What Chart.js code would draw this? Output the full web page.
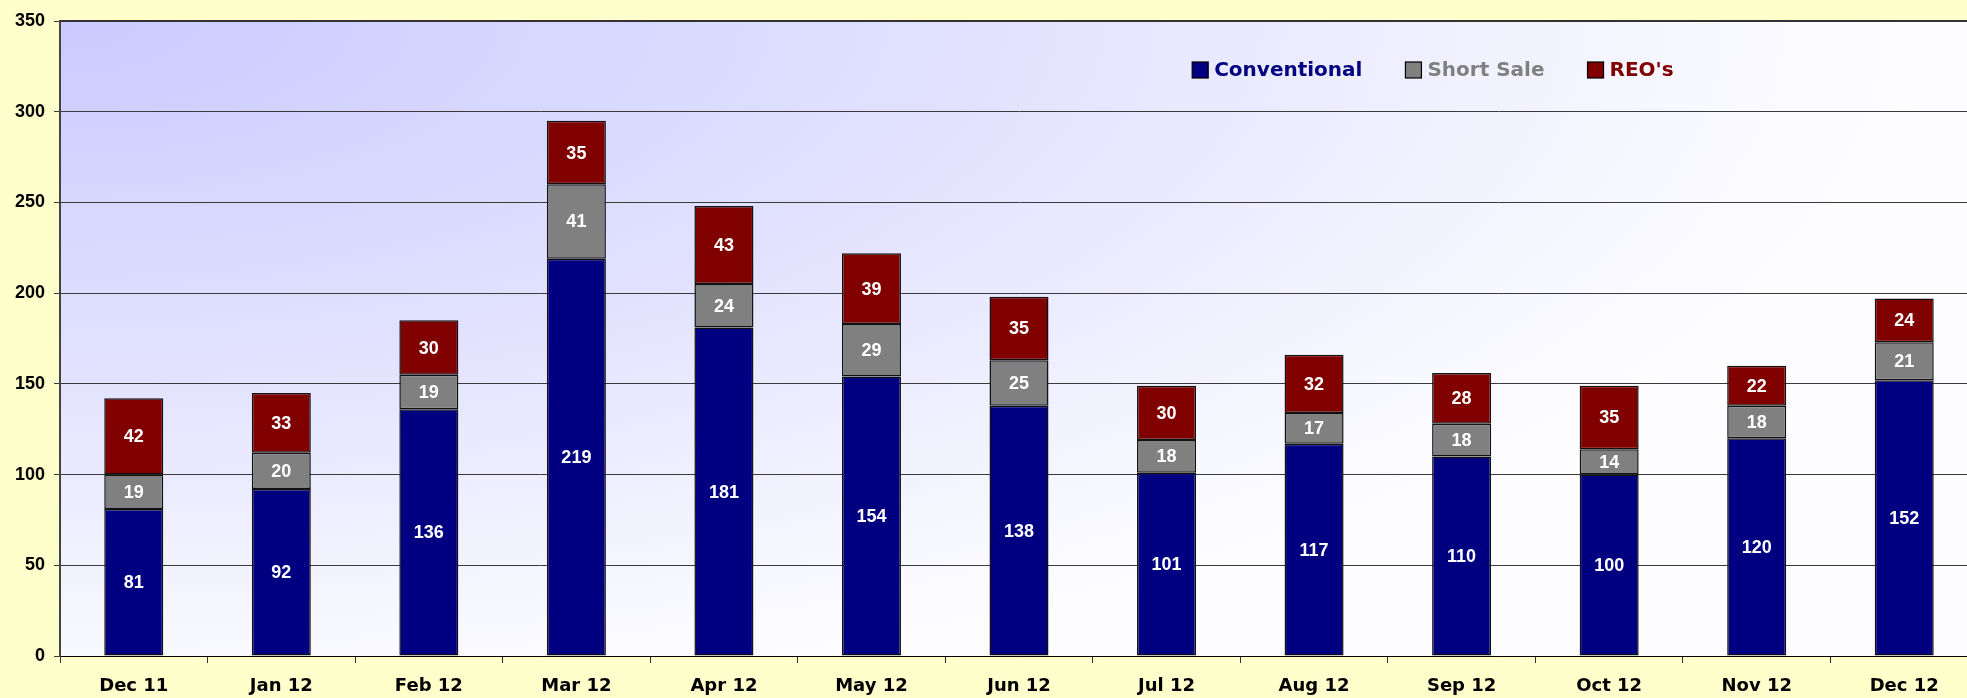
<!DOCTYPE html>
<html>
<head>
<meta charset="utf-8">
<script src="https://cdn.jsdelivr.net/npm/chart.js@4.4.1/dist/chart.umd.min.js"></script>
<style>
  html, body { margin: 0; padding: 0; background: #FFFFCC; overflow: hidden; }
  #wrap { width: 1967px; height: 698px; overflow: hidden; }
</style>
</head>
<body>
<div id="wrap"><canvas id="salesChart" width="1978" height="698"></canvas></div>
<script>
// Chart data
const months = ['Dec 11', 'Jan 12', 'Feb 12', 'Mar 12', 'Apr 12', 'May 12', 'Jun 12',
                'Jul 12', 'Aug 12', 'Sep 12', 'Oct 12', 'Nov 12', 'Dec 12'];
const conventional = [81, 92, 136, 219, 181, 154, 138, 101, 117, 110, 100, 120, 152];
const shortSale = [19, 20, 19, 41, 24, 29, 25, 18, 17, 18, 14, 18, 21];
const reos = [42, 33, 30, 35, 43, 39, 35, 30, 32, 28, 35, 22, 24];
const yTicks = [0, 50, 100, 150, 200, 250, 300, 350];

const seriesColors = { conv: '#000080', short: '#808080', reo: '#800000' };

// Plot area background: soft lavender fading out from the top-left corner
const plotBackground = {
    id: 'plotBackground',
    beforeDraw(chart) {
        const { ctx, chartArea: a } = chart;
        const rx = a.width * 0.97;
        const ry = a.height * 1.1;
        ctx.save();
        ctx.beginPath();
        ctx.rect(a.left, a.top, a.width, a.height);
        ctx.clip();
        ctx.translate(a.left, a.top);
        ctx.scale(1, ry / rx);
        const g = ctx.createRadialGradient(0, 0, 0, 0, 0, rx);
        g.addColorStop(0, '#CACAFF');
        g.addColorStop(0.5, '#E2E2FF');
        g.addColorStop(0.85, '#F6F6FF');
        g.addColorStop(1, '#FDFDFF');
        ctx.fillStyle = g;
        ctx.fillRect(0, 0, rx * 1.2, rx * 1.2);
        ctx.restore();
    },
    afterDraw(chart) {
        // dark top border of the plot
        const { ctx, chartArea: a } = chart;
        ctx.save();
        ctx.strokeStyle = '#333';
        ctx.lineWidth = 2;
        ctx.beginPath();
        ctx.moveTo(a.left, a.top);
        ctx.lineTo(a.right, a.top);
        ctx.stroke();
        ctx.restore();
    }
};

// White value labels centred in each segment
const segmentLabels = {
    id: 'segmentLabels',
    afterDatasetsDraw(chart) {
        const ctx = chart.ctx;
        ctx.save();
        ctx.font = 'bold 18px "Liberation Sans", Arial, sans-serif';
        ctx.fillStyle = '#FFFFFF';
        ctx.textAlign = 'center';
        ctx.textBaseline = 'middle';
        chart.data.datasets.forEach((ds, i) => {
            const meta = chart.getDatasetMeta(i);
            meta.data.forEach((bar, j) => {
                ctx.fillText(String(ds.data[j]), bar.x, (bar.y + bar.base) / 2 + 1);
            });
        });
        ctx.restore();
    }
};

// Legend drawn inside the plot, upper right
const insideLegend = {
    id: 'insideLegend',
    afterDraw(chart) {
        const ctx = chart.ctx;
        const a = chart.chartArea;
        let x = a.left + a.width * 0.5903;
        const y = a.top + 49;
        ctx.save();
        ctx.font = 'bold 20px "DejaVu Sans", Tahoma, sans-serif';
        ctx.textBaseline = 'middle';
        chart.data.datasets.forEach(ds => {
            ctx.fillStyle = ds.backgroundColor;
            ctx.fillRect(x, y - 8, 16, 16);
            ctx.strokeStyle = '#000';
            ctx.lineWidth = 1.2;
            ctx.strokeRect(x, y - 8, 16, 16);
            ctx.fillStyle = ds.backgroundColor;
            ctx.fillText(ds.label, x + 22, y + 1);
            x += 22 + ctx.measureText(ds.label).width + 43;
        });
        ctx.restore();
    }
};

const ctx = document.getElementById('salesChart').getContext('2d');
const chart = new Chart(ctx, {
    type: 'bar',
    data: {
        labels: months,
        datasets: [
            { label: 'Conventional', data: conventional, backgroundColor: seriesColors.conv },
            { label: 'Short Sale', data: shortSale, backgroundColor: seriesColors.short },
            { label: "REO's", data: reos, backgroundColor: seriesColors.reo }
        ].map(ds => Object.assign(ds, {
            borderColor: '#111',
            borderWidth: 1.5,
            borderSkipped: false,
            barPercentage: 0.4,
            categoryPercentage: 1.0
        }))
    },
    options: {
        responsive: false,
        animation: false,
        layout: { padding: { top: 21, right: 0, left: 0, bottom: 0 } },
        plugins: {
            legend: { display: false },
            tooltip: { enabled: false }
        },
        scales: {
            x: {
                stacked: true,
                grid: { drawOnChartArea: false, drawTicks: true, tickLength: 7, color: '#333', offset: true },
                border: { color: '#000', width: 1 },
                ticks: {
                    color: '#000',
                    padding: 13,
                    maxRotation: 0,
                    autoSkip: false,
                    font: { family: '"DejaVu Sans", Tahoma, sans-serif', size: 18, weight: 'bold' }
                },
                afterFit: s => { s.height = 42; }
            },
            y: {
                stacked: true,
                min: yTicks[0],
                max: yTicks[yTicks.length - 1],
                afterBuildTicks: s => { s.ticks = yTicks.map(v => ({ value: v })); },
                grid: { color: '#3a3a3a', lineWidth: 1, tickLength: 6 },
                border: { color: '#444', width: 2 },
                ticks: {
                    color: '#000',
                    padding: 9,
                    font: { family: '"Liberation Sans", Arial, sans-serif', size: 18, weight: 'bold' }
                },
                afterFit: s => { s.width = 60; }
            }
        }
    },
    plugins: [plotBackground, segmentLabels, insideLegend]
});
</script>
</body>
</html>
